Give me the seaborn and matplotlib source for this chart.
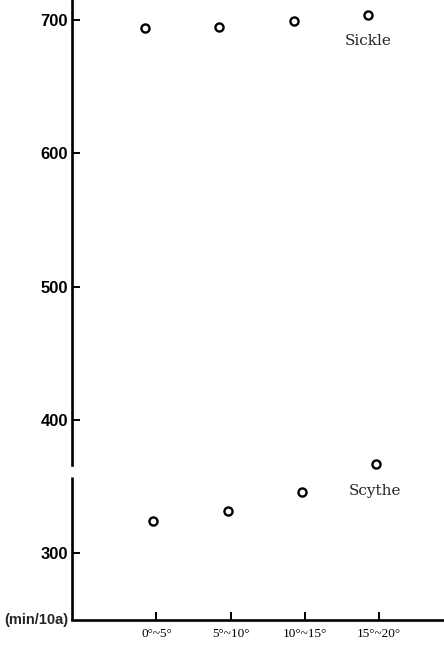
import numpy as np
import pandas as pd
import matplotlib
matplotlib.use("Agg")
import matplotlib.pyplot as plt
import seaborn as sns

# ---- data ----
categories = ["0°~5°", "5°~10°", "10°~15°", "15°~20°"]
sickle = [694, 695, 699, 704]
scythe = [324, 332, 346, 367]
y_ticks = [300, 400, 500, 600, 700]
unit_label = "(min/10a)"

sns.set_theme(style="white")
plt.rcParams['font.family'] = ['Liberation Serif', 'DejaVu Serif']

fig = plt.figure(figsize=(4.44, 6.47), dpi=100)
ax = fig.add_axes([0.162, 0.042, 0.838, 0.958])

idx = np.arange(len(categories))
df = pd.concat([
    pd.DataFrame({"x": idx - 0.15, "y": sickle, "tool": "Sickle"}),
    pd.DataFrame({"x": idx - 0.04, "y": scythe, "tool": "Scythe"}),
])
sns.scatterplot(data=df, x="x", y="y", ax=ax, marker="o", s=34,
                facecolor="white", edgecolor="black", linewidth=1.7,
                legend=False, zorder=5)

ax.set_xlim(-1.14, 3.88)
ax.set_ylim(250, 715)
ax.set_xticks(idx)
ax.set_xticklabels(categories, fontsize=9.5, family=['Liberation Serif'])
ax.set_yticks(y_ticks)
ax.set_yticklabels([str(v) for v in y_ticks], fontsize=12,
                   family=['Liberation Sans'], fontweight='bold')
ax.tick_params(axis='both', direction='in', length=6, width=1.4,
               colors='black', left=True, bottom=True)
ax.tick_params(axis='y', pad=3)
ax.tick_params(axis='x', pad=6)
ax.set_xlabel("")
ax.set_ylabel("")

for s in ['top', 'right']:
    ax.spines[s].set_visible(False)
for s in ['left', 'bottom']:
    ax.spines[s].set_color('black')
    ax.spines[s].set_linewidth(1.9)
# broken y axis: upper part and lower part
ax.spines['left'].set_bounds(366, 715)
ax.plot([0, 0], [250, 357], transform=ax.get_yaxis_transform(),
        color='black', lw=1.9, clip_on=False, solid_capstyle='butt')

ax.text(2.86, 684, "Sickle", fontsize=11, ha='center', va='center',
        family=['DejaVu Serif'])
ax.text(2.95, 347, "Scythe", fontsize=11, ha='center', va='center',
        family=['DejaVu Serif'])
ax.text(-0.01, 0.0, unit_label, transform=ax.transAxes, fontsize=10.5,
        ha='right', va='center', family=['Liberation Sans'], fontweight='bold')

fig.savefig("out.png", dpi=100)
